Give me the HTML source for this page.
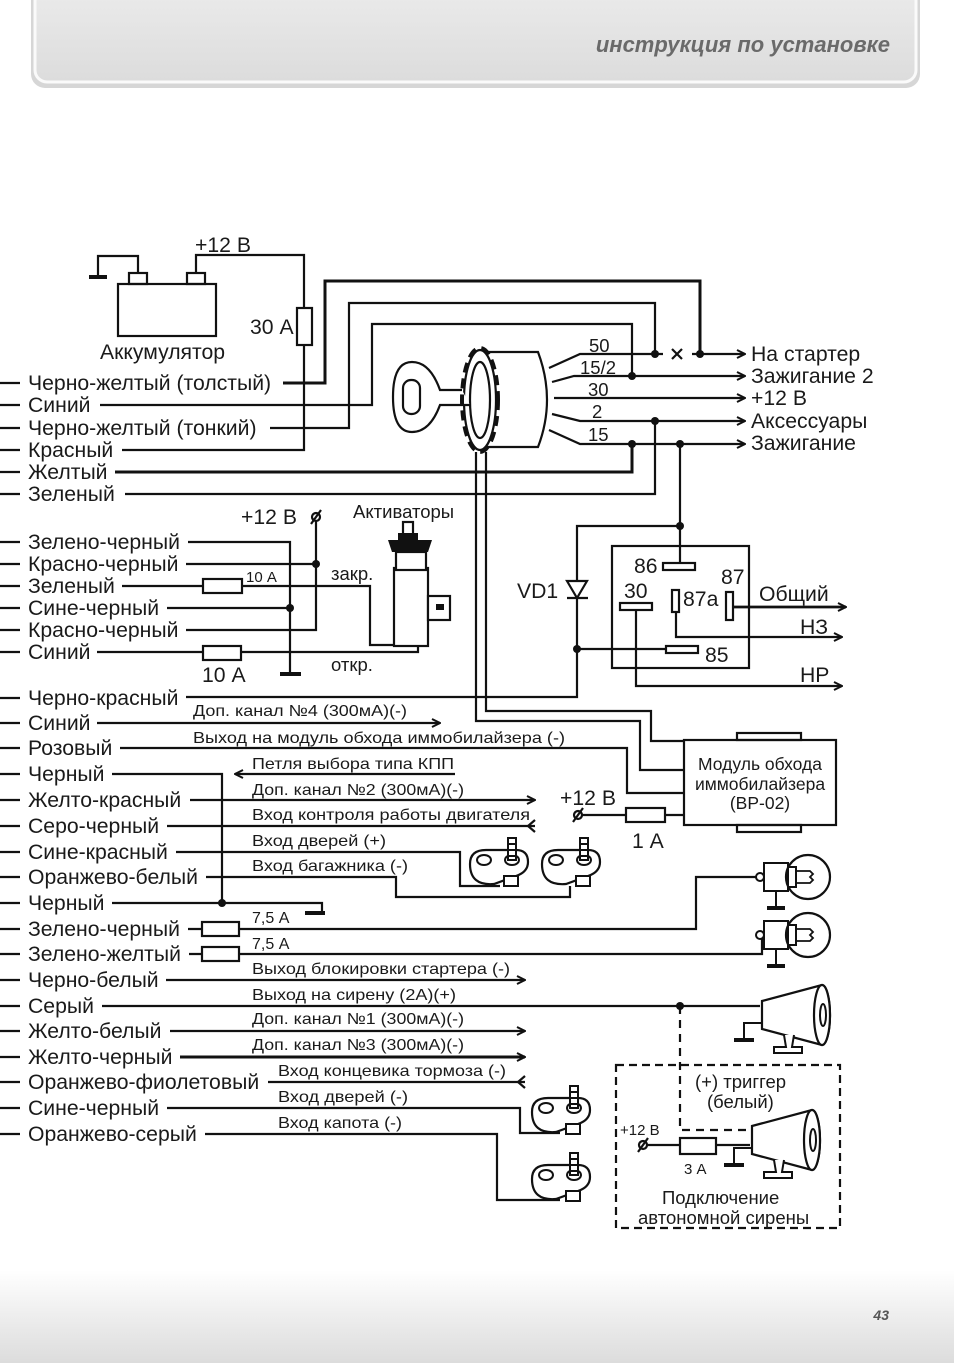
<!DOCTYPE html>
<html><head><meta charset="utf-8"><style>
html,body{margin:0;padding:0;background:#fff}
svg{display:block}
text{font-family:"Liberation Sans",Arial,sans-serif;fill:#1a1a1a}
</style></head><body>
<svg width="954" height="1363" viewBox="0 0 954 1363" xmlns="http://www.w3.org/2000/svg">
<defs>
<linearGradient id="hg" x1="0" y1="0" x2="0" y2="1"><stop offset="0" stop-color="#ececec"/><stop offset="1" stop-color="#dcdcdc"/></linearGradient>
<linearGradient id="fg" x1="0" y1="0" x2="0" y2="1"><stop offset="0" stop-color="#ffffff"/><stop offset="1" stop-color="#dcdcdc"/></linearGradient>
<g id="sw">
<path d="M-42,2 q0,-14 16,-14 h30 q12,0 12,12 q0,10 -12,14 l-22,8 q-24,2 -24,-20z" fill="#fff" stroke="#111" stroke-width="2.2"/>
<ellipse cx="-28" cy="-2" rx="7" ry="5" fill="#fff" stroke="#111" stroke-width="2"/>
<ellipse cx="0" cy="-2" rx="7" ry="5" fill="#fff" stroke="#111" stroke-width="2"/>
<rect x="-4" y="-24" width="8" height="22" fill="#fff" stroke="#111" stroke-width="2"/>
<line x1="-4" y1="-18" x2="4" y2="-18" stroke="#111" stroke-width="2"/>
<line x1="-4" y1="-12" x2="4" y2="-12" stroke="#111" stroke-width="2"/>
<line x1="-4" y1="-6" x2="4" y2="-6" stroke="#111" stroke-width="2"/>
<rect x="-8" y="14" width="14" height="10" fill="#fff" stroke="#111" stroke-width="2"/>
</g>
<g id="bulb">
<circle cx="4" cy="0" r="4" fill="#fff" stroke="#111" stroke-width="2"/>
<path d="M8,-14 h24 v28 h-24 z" fill="#fff" stroke="#111" stroke-width="2"/>
<circle cx="52" cy="0" r="22" fill="#fff" stroke="#111" stroke-width="2.2"/>
<rect x="32" y="-10" width="8" height="20" fill="#fff" stroke="#111" stroke-width="2"/>
<path d="M40,-6 h14 l3,3 -3,3 3,3 -3,3 h-14" fill="none" stroke="#111" stroke-width="1.8"/>
<line x1="20" y1="14" x2="20" y2="30" stroke="#111" stroke-width="2"/>
<line x1="11" y1="31" x2="29" y2="31" stroke="#111" stroke-width="4"/>
</g>
<g id="siren">
<path d="M0,-14 L60,-30 A8,30 0 0 1 60,30 L0,14 Z" fill="#fff" stroke="#111" stroke-width="2.2"/>
<ellipse cx="60" cy="0" rx="8" ry="30" fill="#fff" stroke="#111" stroke-width="2.2"/>
<ellipse cx="61" cy="0" rx="3" ry="11" fill="#fff" stroke="#111" stroke-width="2"/>
<path d="M22,20 l2,12 h-12 v6 h28 v-6 h-10 l2,-12" fill="#fff" stroke="#111" stroke-width="2"/>
<path d="M0,8 h-18 v16" fill="none" stroke="#111" stroke-width="2"/>
<line x1="-28" y1="25" x2="-8" y2="25" stroke="#111" stroke-width="4"/>
</g>
<marker id="ar" markerWidth="10" markerHeight="10" refX="9" refY="5" orient="auto" markerUnits="userSpaceOnUse"><path d="M1,1 L9,5 L1,9" fill="none" stroke="#111" stroke-width="2"/></marker>
</defs>

<rect x="31" y="-20" width="889" height="108" rx="14" fill="#d6d6d6"/>
<rect x="35" y="-20" width="881" height="102" rx="12" fill="url(#hg)" stroke="#fafafa" stroke-width="3"/>
<text x="890" y="52" text-anchor="end" font-size="22" font-weight="bold" font-style="italic" style="fill:#6a6a6a">инструкция по установке</text>
<rect x="0" y="1270" width="954" height="93" fill="url(#fg)"/>
<text x="889" y="1320" text-anchor="end" font-size="14" font-weight="bold" font-style="italic" style="fill:#555">43</text>

<g fill="none" stroke="#111" stroke-width="2.2">
<path d="M0,383h20M0,405h20M0,428h20M0,450h20M0,472h20M0,494h20M0,542h20M0,564h20M0,586h20M0,608h20M0,630h20M0,652h20M0,698h20M0,723h20M0,748h20M0,774h20M0,800h20M0,826h20M0,852h20M0,877h20M0,903h20M0,929h20M0,954h20M0,980h20M0,1006h20M0,1031h20M0,1057h20M0,1082h20M0,1108h20M0,1134h20"/>
<rect x="118" y="284" width="98" height="52"/>
<rect x="129" y="273" width="18" height="11"/>
<rect x="187" y="273" width="18" height="11"/>
<path d="M138,273V256H98V276"/>
<path d="M89,277h18" stroke-width="4"/>
<path d="M196,273V255H304V450H122"/>
<rect x="297" y="308" width="15" height="37" fill="#fff"/>
<path d="M283,383H325V281H700V354" stroke-width="3"/>
<path d="M270,428H349V303H655V354"/>
<path d="M100,405H372V324H632V376"/>
<path d="M115,472H632V444" stroke-width="3"/>
<path d="M125,494H655V421"/>
<path d="M549,368L580,354H655"/>
<path d="M700,354H745" marker-end="url(#ar)"/>
<path d="M655,354h8M692,354h8" />
<path d="M672,349l10,10M682,349l-10,10"/>
<path d="M552,382L574,376H745" marker-end="url(#ar)"/>
<path d="M554,398H745" marker-end="url(#ar)"/>
<path d="M552,414L580,421H745" marker-end="url(#ar)"/>
<path d="M549,430L580,444H745" marker-end="url(#ar)"/>
<path d="M484,352H538Q556,400 538,447H484Z" fill="#fff"/>
<ellipse cx="480" cy="400" rx="16" ry="50" fill="#fff"/>
<ellipse cx="480" cy="400" rx="10" ry="38" fill="#fff"/>
<path d="M462,390H440Q430,362 412,362Q393,362 393,397Q393,432 412,432Q430,432 440,405H470" fill="#fff"/>
<rect x="403" y="380" width="17" height="34" rx="8"/>
<ellipse cx="480" cy="400" rx="18" ry="52" stroke-width="4" stroke-dasharray="10,6"/>
<path d="M476,452V721H640V770H684"/>
<path d="M486,452V711H651V741H684"/>
<path d="M120,748H627V793H684"/>
<rect x="684" y="740" width="152" height="85" fill="#fff"/>
<rect x="737" y="733" width="64" height="7"/>
<rect x="737" y="825" width="64" height="7"/>
<path d="M582,815H684"/>
<rect x="626" y="808" width="39" height="14" fill="#fff"/>
<circle cx="578" cy="815" r="4"/>
<path d="M573,822l10,-14"/>
<path d="M680,444V566"/>
<path d="M680,526H577V697H186"/>
<path d="M577,649H668"/>
<rect x="612" y="546" width="137" height="122"/>
<rect x="663" y="563" width="32" height="7" fill="#fff"/>
<rect x="666" y="646" width="32" height="7" fill="#fff"/>
<rect x="620" y="603" width="32" height="7" fill="#fff"/>
<rect x="672" y="590" width="7" height="22" fill="#fff"/>
<rect x="726" y="592" width="7" height="28" fill="#fff"/>
<path d="M636,610V686H842" marker-end="url(#ar)"/>
<path d="M676,612V637H842" marker-end="url(#ar)"/>
<path d="M733,607H846" marker-end="url(#ar)" stroke-width="2.8"/>
<path d="M567,598H588M567,581l10,17 10,-17z" fill="#fff"/>
<path d="M316,520V630H186"/>
<path d="M186,564H316"/>
<path d="M188,542H290V673"/>
<path d="M280,674h21" stroke-width="4"/>
<path d="M167,608H290"/>
<circle cx="316" cy="517" r="4"/>
<path d="M311,524l10,-14"/>
<path d="M122,586H370V645H396"/>
<rect x="203" y="579" width="39" height="14" fill="#fff"/>
<path d="M97,652H418V645"/>
<rect x="203" y="646" width="38" height="14" fill="#fff"/>
<rect x="394" y="568" width="34" height="78" fill="#fff"/>
<rect x="428" y="596" width="22" height="24" fill="#fff"/>
<rect x="396" y="552" width="30" height="18" fill="#fff"/>
<rect x="403" y="522" width="10" height="14" fill="#fff"/>
<path d="M97,723H440" marker-end="url(#ar)"/>
<path d="M112,774H222V903"/>
<path d="M112,903H322V912"/>
<path d="M305,913h20" stroke-width="4"/>
<path d="M455,774H235" marker-end="url(#ar)"/>
<path d="M190,800H535" marker-end="url(#ar)"/>
<path d="M167,826H535"/>
<path d="M535,820l-7,6 7,6"/>
<path d="M176,852H460V886H500"/>
<path d="M206,877H396V897H570V886"/>
<path d="M188,929H696V877H760"/>
<rect x="202" y="922" width="37" height="14" fill="#fff"/>
<path d="M189,954H762V935H772"/>
<rect x="202" y="947" width="37" height="14" fill="#fff"/>
<path d="M166,980H525" marker-end="url(#ar)"/>
<path d="M102,1006H760"/>
<path d="M170,1031H525" marker-end="url(#ar)"/>
<path d="M180,1057H525" marker-end="url(#ar)" stroke-width="3"/>
<path d="M268,1082H525"/>
<path d="M525,1076l-7,6 7,6"/>
<path d="M167,1108H520V1133H560"/>
<path d="M205,1134H497V1200H560"/>
<rect x="616" y="1065" width="224" height="163" stroke-dasharray="8,5"/>
<path d="M680,1006V1130H750" stroke-dasharray="8,6"/>
<path d="M647,1145H750"/>
<rect x="680" y="1138" width="36" height="16" fill="#fff"/>
<circle cx="643" cy="1145" r="4"/>
<path d="M638,1152l10,-14"/>
</g>
<g fill="#111">
<circle cx="700" cy="354" r="4"/><circle cx="655" cy="354" r="4"/><circle cx="632" cy="376" r="4"/>
<circle cx="655" cy="421" r="4"/><circle cx="632" cy="444" r="4"/><circle cx="680" cy="444" r="4"/>
<circle cx="680" cy="526" r="4"/><circle cx="577" cy="649" r="4"/>
<circle cx="316" cy="564" r="4"/><circle cx="290" cy="608" r="4"/>
<circle cx="222" cy="903" r="4"/><circle cx="680" cy="1006" r="4"/>
<path d="M388,540h44l-4,12h-36z"/><rect x="398" y="533" width="20" height="9"/>
<rect x="436" y="604" width="8" height="6"/>
</g>
<use href="#sw" x="512" y="862"/>
<use href="#sw" x="584" y="862"/>
<use href="#sw" x="574" y="1110"/>
<use href="#sw" x="574" y="1177"/>
<use href="#bulb" x="756" y="877"/>
<use href="#bulb" x="756" y="935"/>
<use href="#siren" x="762" y="1015"/>
<use href="#siren" x="752" y="1140"/>

<g font-size="21.2">
<text x="195" y="252">+12 В</text>
<text x="250" y="334">30 А</text>
<text x="100" y="359">Аккумулятор</text>
<text x="28" y="390">Черно-желтый (толстый)</text>
<text x="28" y="412">Синий</text>
<text x="28" y="435">Черно-желтый (тонкий)</text>
<text x="28" y="457">Красный</text>
<text x="28" y="479">Желтый</text>
<text x="28" y="501">Зеленый</text>
<text x="28" y="549">Зелено-черный</text>
<text x="28" y="571">Красно-черный</text>
<text x="28" y="593">Зеленый</text>
<text x="28" y="615">Сине-черный</text>
<text x="28" y="637">Красно-черный</text>
<text x="28" y="659">Синий</text>
<text x="28" y="705">Черно-красный</text>
<text x="28" y="730">Синий</text>
<text x="28" y="755">Розовый</text>
<text x="28" y="781">Черный</text>
<text x="28" y="807">Желто-красный</text>
<text x="28" y="833">Серо-черный</text>
<text x="28" y="859">Сине-красный</text>
<text x="28" y="884">Оранжево-белый</text>
<text x="28" y="910">Черный</text>
<text x="28" y="936">Зелено-черный</text>
<text x="28" y="961">Зелено-желтый</text>
<text x="28" y="987">Черно-белый</text>
<text x="28" y="1013">Серый</text>
<text x="28" y="1038">Желто-белый</text>
<text x="28" y="1064">Желто-черный</text>
<text x="28" y="1089">Оранжево-фиолетовый</text>
<text x="28" y="1115">Сине-черный</text>
<text x="28" y="1141">Оранжево-серый</text>
<text x="751" y="361">На стартер</text>
<text x="751" y="383">Зажигание 2</text>
<text x="751" y="405">+12 В</text>
<text x="751" y="428">Аксессуары</text>
<text x="751" y="450">Зажигание</text>
<text x="241" y="524">+12 В</text>
<text x="202" y="682">10 А</text>
<text x="517" y="598">VD1</text>
<text x="634" y="573">86</text>
<text x="624" y="598">30</text>
<text x="721" y="584">87</text>
<text x="683" y="606">87a</text>
<text x="705" y="662">85</text>
<text x="759" y="601">Общий</text>
<text x="800" y="634">НЗ</text>
<text x="800" y="682">НР</text>
<text x="560" y="805">+12 В</text>
<text x="632" y="848">1 А</text>
</g>
<g font-size="18.5">
<text x="589" y="352">50</text>
<text x="580" y="374">15/2</text>
<text x="588" y="396">30</text>
<text x="592" y="418">2</text>
<text x="588" y="441">15</text>
<text x="353" y="518">Активаторы</text>
<text x="331" y="580">закр.</text>
<text x="331" y="671">откр.</text>
<text x="695" y="1088">(+) триггер</text>
<text x="707" y="1108">(белый)</text>
<text x="662" y="1204">Подключение</text>
<text x="638" y="1224">автономной сирены</text>
</g>
<g font-size="15">
<text x="246" y="582">10 А</text>
<text x="620" y="1135">+12 В</text>
<text x="684" y="1174">3 А</text>
</g>
<g font-size="16">
<text x="193" y="716" textLength="214" lengthAdjust="spacingAndGlyphs">Доп. канал №4 (300мА)(-)</text>
<text x="193" y="743" textLength="372" lengthAdjust="spacingAndGlyphs">Выход на модуль обхода иммобилайзера (-)</text>
<text x="252" y="769" textLength="202" lengthAdjust="spacingAndGlyphs">Петля выбора типа КПП</text>
<text x="252" y="795" textLength="212" lengthAdjust="spacingAndGlyphs">Доп. канал №2 (300мА)(-)</text>
<text x="252" y="820" textLength="278" lengthAdjust="spacingAndGlyphs">Вход контроля работы двигателя</text>
<text x="252" y="846" textLength="134" lengthAdjust="spacingAndGlyphs">Вход дверей (+)</text>
<text x="252" y="871" textLength="156" lengthAdjust="spacingAndGlyphs">Вход багажника (-)</text>
<text x="252" y="923">7,5 А</text>
<text x="252" y="949">7,5 А</text>
<text x="252" y="974" textLength="258" lengthAdjust="spacingAndGlyphs">Выход блокировки стартера (-)</text>
<text x="252" y="1000" textLength="204" lengthAdjust="spacingAndGlyphs">Выход на сирену (2А)(+)</text>
<text x="252" y="1024" textLength="212" lengthAdjust="spacingAndGlyphs">Доп. канал №1 (300мА)(-)</text>
<text x="252" y="1050" textLength="212" lengthAdjust="spacingAndGlyphs">Доп. канал №3 (300мА)(-)</text>
<text x="278" y="1076" textLength="228" lengthAdjust="spacingAndGlyphs">Вход концевика тормоза (-)</text>
<text x="278" y="1102" textLength="130" lengthAdjust="spacingAndGlyphs">Вход дверей (-)</text>
<text x="278" y="1128" textLength="124" lengthAdjust="spacingAndGlyphs">Вход капота (-)</text>
</g>
<path d="M252,774H455" stroke="#111" stroke-width="1.5"/>
<g font-size="17.5" text-anchor="middle">
<text x="760" y="770">Модуль обхода</text>
<text x="760" y="790">иммобилайзера</text>
<text x="760" y="809">(ВР-02)</text>
</g>
</svg>
</body></html>
